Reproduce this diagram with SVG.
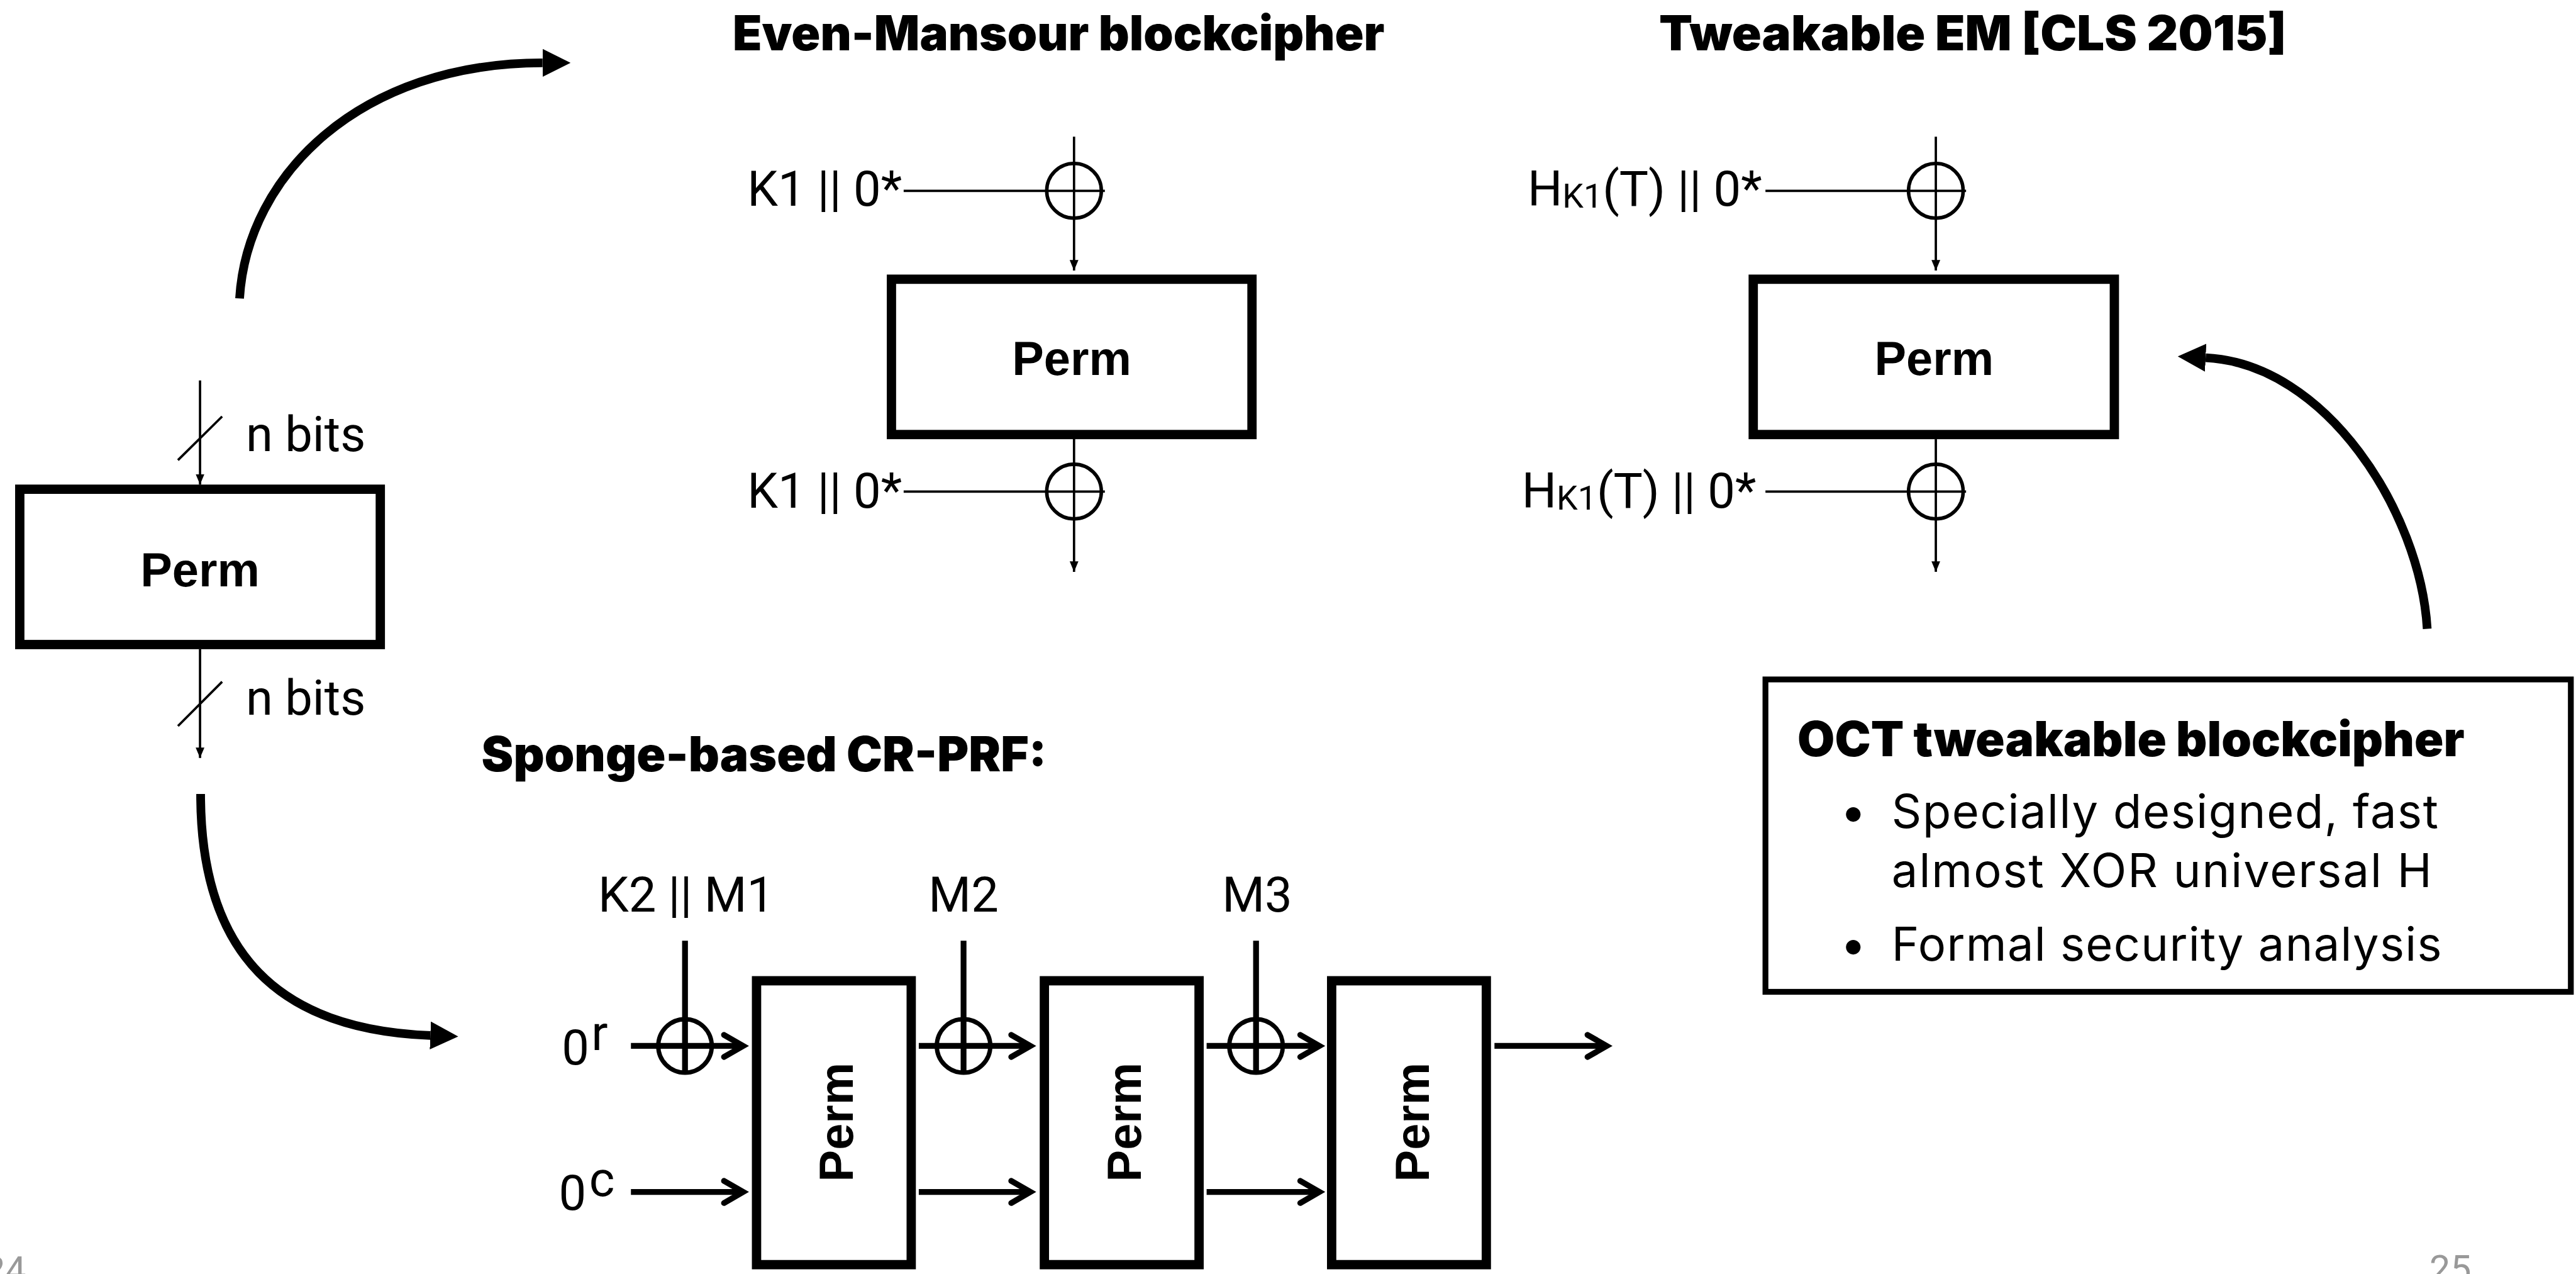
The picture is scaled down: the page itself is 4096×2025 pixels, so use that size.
<svg xmlns="http://www.w3.org/2000/svg" width="4096" height="2025" viewBox="0 0 4096 2025">
<defs>
<style>
.t{font-family:Roboto,"Liberation Sans",sans-serif;fill:#000;font-size:84px}
.h{font-family:Inter,"Liberation Sans",sans-serif;font-weight:900;font-size:83px;fill:#000}
.b{font-family:Inter,"Liberation Sans",sans-serif;font-size:80px;fill:#000}
.perm{font-family:"Liberation Sans",Arial,sans-serif;font-weight:700;font-size:82px;text-anchor:middle;fill:#000}
.pg{font-family:Roboto,"Liberation Sans",sans-serif;font-size:64px;fill:#999}
.box{fill:#fff;stroke:#000;stroke-width:16}
.thin{stroke:#000;stroke-width:4;fill:none}
.xor{fill:none;stroke:#000;stroke-width:6}
.sx{fill:none;stroke:#000;stroke-width:7.5}
.thick{stroke:#000;stroke-width:10;fill:none}
.chev{stroke:#000;stroke-width:10;fill:none;stroke-linecap:round;stroke-linejoin:miter}
.curve{stroke:#000;stroke-width:15;fill:none}
</style>
<marker id="ah" viewBox="0 0 18 15" refX="18" refY="7.5" markerWidth="18" markerHeight="15" markerUnits="userSpaceOnUse" orient="auto"><path d="M0,0 L18,7.5 L0,15 z" fill="#000"/></marker>
<marker id="big" viewBox="0 0 48 48" refX="0" refY="24" markerWidth="48" markerHeight="48" markerUnits="userSpaceOnUse" orient="auto"><path d="M0,0 L48,24 L0,48 z" fill="#000"/></marker>
</defs>
<rect width="4096" height="2025" fill="#fff"/>
<g transform="scale(0.92463)">

<g id="headers">
<text class="h" x="1260" y="87" textLength="1121" lengthAdjust="spacingAndGlyphs">Even-Mansour blockcipher</text>
<text class="h" x="2853" y="87" textLength="1079" lengthAdjust="spacingAndGlyphs">Tweakable EM [CLS 2015]</text>
<text class="h" x="828" y="1326" textLength="972" lengthAdjust="spacingAndGlyphs">Sponge-based CR-PRF:</text>
</g>

<g id="perm-left">
<rect class="box" x="34" y="841" width="620" height="267"/>
<text class="perm" x="344" y="1008" font-size="84">Perm</text>
<line class="thin" x1="306" y1="791" x2="382" y2="716"/>
<text class="t" x="423" y="775" font-size="87">n bits</text>
<line class="thin" x1="306" y1="1248" x2="382" y2="1172"/>
<text class="t" x="423" y="1229" font-size="87">n bits</text>
</g>

<g id="even-mansour">
<circle class="xor" cx="1847" cy="328" r="47"/>
<text class="t" x="1551" y="354" text-anchor="end">K1 || 0*</text>
<rect class="box" x="1533" y="480" width="620" height="267"/>
<text class="perm" x="1843" y="645">Perm</text>
<circle class="xor" cx="1847" cy="845" r="47"/>
<text class="t" x="1551" y="873" text-anchor="end">K1 || 0*</text>
</g>

<g id="tweakable-em">
<circle class="xor" cx="3329" cy="328" r="47"/>
<text class="t" x="3030" y="354" text-anchor="end">H<tspan font-size="58" dy="3">K1</tspan><tspan dy="-3">(T) || 0*</tspan></text>
<rect class="box" x="3015" y="480" width="621" height="267"/>
<text class="perm" x="3326" y="645">Perm</text>
<circle class="xor" cx="3329" cy="845" r="47"/>
<text class="t" x="3020" y="873" text-anchor="end">H<tspan font-size="58" dy="3">K1</tspan><tspan dy="-3">(T) || 0*</tspan></text>
</g>

<g id="sponge">
<text class="t" x="966" y="1830" font-size="84">0</text>
<text class="t" x="1017" y="1805" font-size="48">r</text>
<text class="t" x="961" y="2080" font-size="84">0</text>
<text class="t" x="1013" y="2056" font-size="48">c</text>
<text class="t" x="1180" y="1567" text-anchor="middle" font-size="82">K2 || M1</text>
<text class="t" x="1657" y="1567" text-anchor="middle" font-size="82">M2</text>
<text class="t" x="2162" y="1567" text-anchor="middle" font-size="82">M3</text>
<circle class="sx" cx="1178" cy="1798" r="46"/>
<circle class="sx" cx="1657" cy="1798" r="46"/>
<circle class="sx" cx="2160" cy="1798" r="46"/>
<rect class="box" x="1301" y="1686" width="266" height="488"/>
<rect class="box" x="1796" y="1686" width="266" height="488"/>
<rect class="box" x="2290" y="1686" width="266" height="488"/>
<text class="perm" transform="translate(1466,1929) rotate(-90)" x="0" y="0">Perm</text>
<text class="perm" transform="translate(1962,1929) rotate(-90)" x="0" y="0">Perm</text>
<text class="perm" transform="translate(2457,1929) rotate(-90)" x="0" y="0">Perm</text>
</g>

<g id="oct-box">
<rect x="3036" y="1168" width="1385" height="537" fill="#fff" stroke="#000" stroke-width="10"/>
<text class="h" x="3091" y="1300" font-size="89" textLength="1147" lengthAdjust="spacingAndGlyphs">OCT tweakable blockcipher</text>
<text class="b" x="3187" y="1423" text-anchor="middle">•</text>
<text class="b" x="3253" y="1423" textLength="940" lengthAdjust="spacing">Specially designed, fast</text>
<text class="b" x="3253" y="1525" textLength="929" lengthAdjust="spacing">almost XOR universal H</text>
<text class="b" x="3187" y="1652" text-anchor="middle">•</text>
<text class="b" x="3253" y="1652" textLength="946" lengthAdjust="spacing">Formal security analysis</text>
</g>

<g id="page-numbers">
<text class="pg" x="45" y="2205" text-anchor="end">24</text>
<text class="pg" x="4178" y="2203">25</text>
</g>

<g id="connectors">
<path class="thin" d="M344,654 V833" marker-end="url(#ah)"/>
<path class="thin" d="M344,1116 V1303" marker-end="url(#ah)"/>
<path class="thin" d="M1847,235 V465" marker-end="url(#ah)"/>
<path class="thin" d="M1554,328 H1900"/>
<path class="thin" d="M1847,755 V983" marker-end="url(#ah)"/>
<path class="thin" d="M1554,845 H1900"/>
<path class="thin" d="M3329,235 V465" marker-end="url(#ah)"/>
<path class="thin" d="M3036,328 H3381"/>
<path class="thin" d="M3329,755 V983" marker-end="url(#ah)"/>
<path class="thin" d="M3036,845 H3381"/>

<path class="thick" d="M1178,1617 V1845"/>
<path class="thick" d="M1657,1617 V1845"/>
<path class="thick" d="M2160,1617 V1845"/>
<path class="thick" d="M1085,1798 H1278"/>
<path class="chev" d="M1245,1779 L1278,1798 L1245,1817"/>
<path class="thick" d="M1580,1798 H1772"/>
<path class="chev" d="M1739,1779 L1772,1798 L1739,1817"/>
<path class="thick" d="M2075,1798 H2269"/>
<path class="chev" d="M2236,1779 L2269,1798 L2236,1817"/>
<path class="thick" d="M2570,1798 H2763"/>
<path class="chev" d="M2730,1779 L2763,1798 L2730,1817"/>
<path class="thick" d="M1085,2049 H1278"/>
<path class="chev" d="M1245,2030 L1278,2049 L1245,2068"/>
<path class="thick" d="M1580,2049 H1772"/>
<path class="chev" d="M1739,2030 L1772,2049 L1739,2068"/>
<path class="thick" d="M2075,2049 H2269"/>
<path class="chev" d="M2236,2030 L2269,2049 L2236,2068"/>

<path class="curve" d="M412,513 C425,300 620,108 933,108" marker-end="url(#big)"/>
<path class="curve" d="M345,1365 C345,1640 480,1770 740,1780" marker-end="url(#big)"/>
<path class="curve" d="M4174,1081 C4162,880 4000,625 3793,615" marker-end="url(#big)"/>
</g>
</g>
</svg>
